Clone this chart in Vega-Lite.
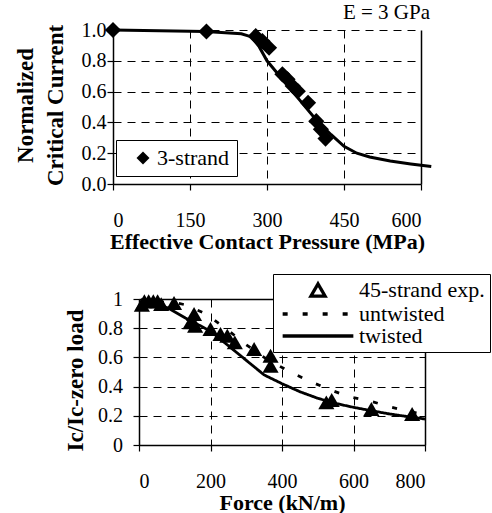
{
  "$schema": "https://vega.github.io/schema/vega-lite/v6.json",
  "background": "white",
  "padding": {"left": 14, "top": 2, "right": 0, "bottom": 0},
  "bounds": "flush",
  "spacing": 115,
  "resolve": {"scale": {"shape": "independent", "strokeDash": "independent"}, "legend": {"shape": "independent", "strokeDash": "independent"}},
  "config": {
    "font": "Liberation Serif",
    "view": {"stroke": null},
    "axis": {
      "labelFont": "Liberation Serif", "labelFontSize": 20, "labelColor": "black", "labelOverlap": false, "tickCount": 20,
      "titleFont": "Liberation Serif", "titleFontSize": 22, "titleFontWeight": "bold", "titleColor": "black",
      "domainColor": "black", "domainWidth": 1.5, "tickColor": "black", "tickSize": 6, "tickWidth": 1.2,
      "gridColor": "black", "gridWidth": 1
    },
    "axisX": {"labelBaseline": "alphabetic", "labelPadding": 36, "titleBaseline": "alphabetic", "titleY": 64},
    "legend": {"labelFont": "Liberation Serif", "labelColor": "black", "labelFontSize": 22, "strokeColor": "black", "fillColor": "white"}
  },
  "vconcat": [
    {
      "width": 308,
      "height": 154,
      "title": {"text": "E = 3 GPa", "anchor": "end", "frame": "group", "fontSize": 21, "fontWeight": "normal", "color": "black", "font": "Liberation Serif", "offset": -3, "dx": 9},
      "layer": [
        {
          "data": {"values": [
            {"p": 0, "v": 1.0}, {"p": 180, "v": 0.99}, {"p": 250, "v": 0.975}, {"p": 270, "v": 0.955},
            {"p": 285, "v": 0.89}, {"p": 300, "v": 0.8}, {"p": 350, "v": 0.6}, {"p": 400, "v": 0.4},
            {"p": 425, "v": 0.32}, {"p": 450, "v": 0.245}, {"p": 475, "v": 0.2}, {"p": 500, "v": 0.175},
            {"p": 540, "v": 0.15}, {"p": 580, "v": 0.13}, {"p": 620, "v": 0.113}
          ]},
          "mark": {"type": "line", "color": "black", "strokeWidth": 3, "clip": false},
          "encoding": {
            "x": {"field": "p", "type": "quantitative", "scale": {"domain": [0, 600], "nice": false, "zero": false},
              "axis": {"values": [0, 150, 300, 450, 600], "title": "Effective Contact Pressure (MPa)",
                "gridDash": {"condition": {"test": "datum.value === 600", "value": [1, 0]}, "value": [8, 6]},
                "gridWidth": {"condition": {"test": "datum.value === 600", "value": 1.5}, "value": 1}}},
            "y": {"field": "v", "type": "quantitative", "scale": {"domain": [0, 1], "nice": false},
              "axis": {"values": [0, 0.2, 0.4, 0.6, 0.8, 1], "format": ".1f", "title": ["Normalized", "Critical Current"],
                "titleFontSize": 23, "titleBaseline": "alphabetic", "titleX": -81, "titleY": 75, "titleLineHeight": 30, "labelPadding": 1,
                "gridDash": [8, 6]}}
          }
        },
        {
          "data": {"values": [
            {"p": 0, "v": 1.0, "s": "3-strand"}, {"p": 182, "v": 0.99, "s": "3-strand"},
            {"p": 278, "v": 0.96, "s": "3-strand"}, {"p": 291, "v": 0.928, "s": "3-strand"},
            {"p": 304, "v": 0.885, "s": "3-strand"}, {"p": 330, "v": 0.712, "s": "3-strand"},
            {"p": 340, "v": 0.68, "s": "3-strand"}, {"p": 350, "v": 0.636, "s": "3-strand"},
            {"p": 360, "v": 0.603, "s": "3-strand"}, {"p": 380, "v": 0.527, "s": "3-strand"},
            {"p": 396, "v": 0.408, "s": "3-strand"}, {"p": 405, "v": 0.355, "s": "3-strand"},
            {"p": 414, "v": 0.295, "s": "3-strand"}
          ]},
          "mark": {"type": "point", "filled": true, "size": 260, "opacity": 1, "color": "black"},
          "encoding": {
            "x": {"field": "p", "type": "quantitative"},
            "y": {"field": "v", "type": "quantitative"},
            "shape": {"field": "s", "type": "nominal", "scale": {"domain": ["3-strand"], "range": ["diamond"]},
              "legend": {"title": null, "orient": "none", "legendX": 3, "legendY": 110, "padding": 7,
                "symbolSize": 169, "symbolOffset": 9, "labelOffset": 3, "labelFontSize": 22,
                "labelExpr": "datum.label + '\u00a0\u00a0\u00a0\u00a0\u00a0\u00a0'",
                "encode": {"symbols": {"update": {"fill": {"value": "black"}, "fillOpacity": {"value": 1}, "stroke": {"value": "black"}, "strokeWidth": {"value": 0}}}}}}
          }
        }
      ]
    },
    {
      "bounds": "flush",
      "spacing": 25,
      "resolve": {"scale": {"shape": "independent", "strokeDash": "independent"}, "legend": {"shape": "independent", "strokeDash": "independent"}},
      "hconcat": [
        {"width": 1, "height": 146, "data": {"values": []}, "mark": "point", "encoding": {}},
        {
          "width": 286,
          "height": 146,
          "layer": [
            {
              "data": {"values": [
                {"f": 0, "v": 0.96, "s": "twisted"}, {"f": 50, "v": 0.96, "s": "twisted"}, {"f": 80, "v": 0.94, "s": "twisted"},
                {"f": 130, "v": 0.87, "s": "twisted"}, {"f": 200, "v": 0.78, "s": "twisted"}, {"f": 250, "v": 0.68, "s": "twisted"},
                {"f": 300, "v": 0.58, "s": "twisted"}, {"f": 350, "v": 0.48, "s": "twisted"}, {"f": 400, "v": 0.42, "s": "twisted"},
                {"f": 450, "v": 0.365, "s": "twisted"}, {"f": 500, "v": 0.32, "s": "twisted"}, {"f": 550, "v": 0.285, "s": "twisted"},
                {"f": 600, "v": 0.258, "s": "twisted"}, {"f": 650, "v": 0.235, "s": "twisted"}, {"f": 700, "v": 0.213, "s": "twisted"},
                {"f": 750, "v": 0.195, "s": "twisted"}, {"f": 800, "v": 0.178, "s": "twisted"},
                {"f": 0, "v": 0.98, "s": "untwisted"}, {"f": 60, "v": 0.98, "s": "untwisted"}, {"f": 100, "v": 0.975, "s": "untwisted"},
                {"f": 130, "v": 0.96, "s": "untwisted"}, {"f": 186, "v": 0.9, "s": "untwisted"}, {"f": 242, "v": 0.8, "s": "untwisted"},
                {"f": 298, "v": 0.69, "s": "untwisted"}, {"f": 350, "v": 0.6, "s": "untwisted"}, {"f": 415, "v": 0.51, "s": "untwisted"},
                {"f": 470, "v": 0.445, "s": "untwisted"}, {"f": 527, "v": 0.385, "s": "untwisted"}, {"f": 588, "v": 0.33, "s": "untwisted"},
                {"f": 648, "v": 0.3, "s": "untwisted"}, {"f": 704, "v": 0.26, "s": "untwisted"}, {"f": 764, "v": 0.225, "s": "untwisted"},
                {"f": 800, "v": 0.21, "s": "untwisted"}
              ]},
              "mark": {"type": "line", "color": "black", "strokeWidth": 2.8},
              "encoding": {
                "x": {"field": "f", "type": "quantitative", "scale": {"domain": [0, 800], "nice": false},
                  "axis": {"values": [0, 200, 400, 600, 800], "title": "Force (kN/m)",
                    "gridDash": {"condition": {"test": "datum.value === 800", "value": [1, 0]}, "value": [8, 6]},
                    "gridWidth": {"condition": {"test": "datum.value === 800", "value": 1.5}, "value": 1}}},
                "y": {"field": "v", "type": "quantitative", "scale": {"domain": [0, 1], "nice": false},
                  "axis": {"values": [0, 0.2, 0.4, 0.6, 0.8, 1], "format": "~g", "title": "Ic/Ic-zero load",
                    "titleFontSize": 23, "titleBaseline": "alphabetic", "titleX": -57, "titleY": 81, "labelPadding": 10.5,
                    "gridDash": {"condition": {"test": "datum.value === 1", "value": [1, 0]}, "value": [8, 6]},
                    "gridWidth": {"condition": {"test": "datum.value === 1", "value": 1.5}, "value": 1}}},
                "strokeDash": {"field": "s", "type": "nominal",
                  "scale": {"domain": ["45-strand exp.", "untwisted", "twisted"], "range": [[1, 0], [5, 15], [1, 0]]},
                  "legend": {"title": null, "orient": "none", "legendX": 134, "legendY": -25, "padding": 5,
                    "symbolSize": 200, "symbolOffset": 29, "labelOffset": 30, "labelFontSize": 22, "rowPadding": -6,
                    "symbolStrokeWidth": 3.3,
                    "encode": {"symbols": {"update": {"fill": {"value": "black"}, "fillOpacity": {"value": 1}, "stroke": {"value": "black"}, "strokeWidth": {"value": 3.3}}}}}}
              }
            },
            {
              "data": {"values": [
                {"f": 8, "v": 0.96, "s": "45-strand exp."}, {"f": 15, "v": 0.985, "s": "45-strand exp."},
                {"f": 27, "v": 0.985, "s": "45-strand exp."}, {"f": 40, "v": 0.985, "s": "45-strand exp."},
                {"f": 52, "v": 0.985, "s": "45-strand exp."}, {"f": 62, "v": 0.965, "s": "45-strand exp."},
                {"f": 98, "v": 0.972, "s": "45-strand exp."}, {"f": 144, "v": 0.84, "s": "45-strand exp."},
                {"f": 154, "v": 0.897, "s": "45-strand exp."}, {"f": 157, "v": 0.817, "s": "45-strand exp."},
                {"f": 200, "v": 0.795, "s": "45-strand exp."}, {"f": 228, "v": 0.76, "s": "45-strand exp."},
                {"f": 247, "v": 0.749, "s": "45-strand exp."}, {"f": 268, "v": 0.703, "s": "45-strand exp."},
                {"f": 322, "v": 0.657, "s": "45-strand exp."}, {"f": 368, "v": 0.612, "s": "45-strand exp."},
                {"f": 368, "v": 0.543, "s": "45-strand exp."}, {"f": 524, "v": 0.292, "s": "45-strand exp."},
                {"f": 539, "v": 0.308, "s": "45-strand exp."}, {"f": 650, "v": 0.247, "s": "45-strand exp."},
                {"f": 764, "v": 0.212, "s": "45-strand exp."}
              ]},
              "mark": {"type": "point", "filled": true, "size": 260, "opacity": 1, "color": "black"},
              "encoding": {
                "x": {"field": "f", "type": "quantitative"},
                "y": {"field": "v", "type": "quantitative"},
                "shape": {"field": "s", "type": "nominal",
                  "scale": {"domain": ["45-strand exp.", "untwisted", "twisted"], "range": ["triangle-up", "M-5,0H5", "M-5,0H5"]},
                  "legend": {"title": null, "orient": "none", "legendX": 134, "legendY": -25, "padding": 5,
                    "symbolSize": 200, "symbolOffset": 29, "labelOffset": 30, "labelFontSize": 22, "rowPadding": -6,
                    "symbolStrokeWidth": 3.3,
                    "encode": {"symbols": {"update": {"fill": {"value": "black"}, "fillOpacity": {"value": 1}, "stroke": {"value": "black"}, "strokeWidth": {"value": 3.3}}}}}}
              }
            }
          ]
        }
      ]
    }
  ]
}
